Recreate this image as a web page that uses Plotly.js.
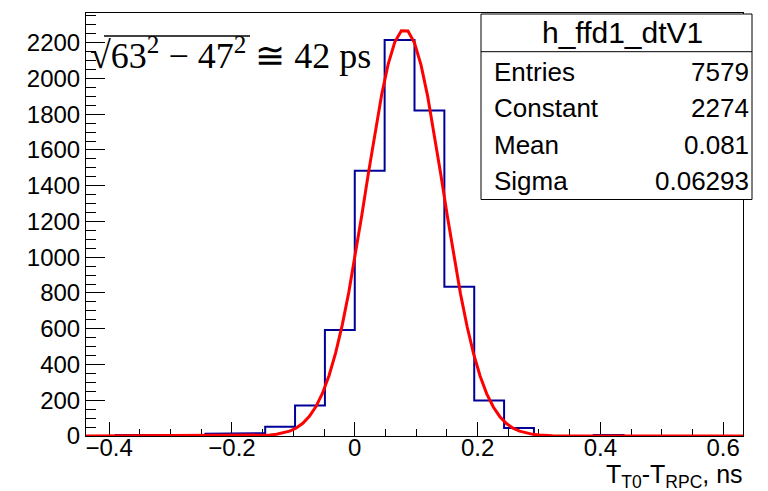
<!DOCTYPE html>
<html>
<head>
<meta charset="utf-8">
<script src="https://cdn.plot.ly/plotly-3.0.1.min.js"></script>
<style>
  html, body { margin: 0; padding: 0; background: #fff; }
  #chart { width: 768px; height: 491px; }
</style>
</head>
<body>
<div id="chart"></div>
<script>
// ---- data ----
const binStart = -0.43776;
const binWidth = 0.04864;
const counts = [0, 5, 5, 5, 12, 16, 52, 170, 593, 1484, 2215, 1820, 835, 198, 45, 0, 0, 5, 0, 0, 0, 0];

// fit curve (gaus) sampled as drawn
const fitX = [-0.43776, -0.15954, -0.14884, -0.13814, -0.12744, -0.11674, -0.10604, -0.09534, -0.08464, -0.07394,
  -0.06324, -0.05254, -0.04184, -0.03114, -0.02044, -0.00974, 0.00096, 0.01166, 0.02236, 0.03306,
  0.04376, 0.05446, 0.06516, 0.07586, 0.08656, 0.09726, 0.10796, 0.11866, 0.12936, 0.14006,
  0.15076, 0.16146, 0.17216, 0.18286, 0.19356, 0.20426, 0.21496, 0.22566, 0.23636, 0.24706,
  0.25776, 0.26846, 0.27916, 0.28986, 0.30056, 0.31126, 0.32196, 0.63232];
const fitY = [0, 1.5, 2.9, 5.3, 9.4, 16.3, 27.4, 44.8, 71.2, 109.8,
  164.4, 239.4, 338.4, 464.8, 620.2, 804.1, 1012.8, 1239.3, 1473.2, 1701.3,
  1908.7, 2080.5, 2203.1, 2266.4, 2265.1, 2199.3, 2074.6, 1901.2, 1692.6, 1464.0,
  1230.1, 1004.2, 796.4, 613.6, 459.3, 334.0, 236.0, 162.0, 108.0, 69.9,
  44.0, 26.9, 16.0, 9.2, 5.2, 2.8, 1.4, 0];

const xTickVals = [-0.4, -0.2, 0, 0.2, 0.4, 0.6];
const xTickText = ['\u22120.4', '\u22120.2', '0', '0.2', '0.4', '0.6'];
const yTickVals = [0, 200, 400, 600, 800, 1000, 1200, 1400, 1600, 1800, 2000, 2200];

const statsTitle = 'h_ffd1_dtV1';
const statsLabels = ['Entries', 'Constant', 'Mean', 'Sigma'];
const statsValues = ['7579', '2274', '0.081', '0.06293'];

const xTitle = 'T<sub>T0</sub>-T<sub>RPC</sub>, ns';
const formulaText = '<span style="font-size:38px">\u221A</span>63<sup>2</sup> \u2212 47<sup>2</sup> \u2245 42 ps';

// ---- build step outline ----
const hx = [binStart], hy = [0];
for (let i = 0; i < counts.length; i++) {
  const lo = binStart + i * binWidth, hi = lo + binWidth;
  hx.push(lo, hi); hy.push(counts[i], counts[i]);
}
hx.push(binStart + counts.length * binWidth); hy.push(0);

// ---- layout helpers (pixel -> paper) ----
const L = 86, Rr = 743, T = 13, B = 436;
const W = Rr - L, H = B - T;
const px = v => (v - L) / W;
const py = v => (B - v) / H;

const fontSans = 'Liberation Sans, Arial, sans-serif';
const fontSerif = 'Liberation Serif, serif';

const traces = [
  { x: hx, y: hy, type: 'scatter', mode: 'lines', line: { color: '#000099', width: 2, shape: 'linear' }, hoverinfo: 'skip' },
  { x: fitX, y: fitY, type: 'scatter', mode: 'lines', line: { color: '#ff0000', width: 3 }, hoverinfo: 'skip' }
];

const annotations = [];
annotations.push({ xref: 'paper', yref: 'paper', x: px(622), y: py(33), text: statsTitle, showarrow: false,
  xanchor: 'center', yanchor: 'middle', font: { family: fontSans, size: 30, color: '#000' } });
const rowY = [71.7, 108, 145, 181];
for (let i = 0; i < statsLabels.length; i++) {
  annotations.push({ xref: 'paper', yref: 'paper', x: px(492), y: py(rowY[i]), text: statsLabels[i], showarrow: false,
    xanchor: 'left', yanchor: 'middle', font: { family: fontSans, size: 26, color: '#000' } });
  annotations.push({ xref: 'paper', yref: 'paper', x: px(751), y: py(rowY[i]), text: statsValues[i], showarrow: false,
    xanchor: 'right', yanchor: 'middle', font: { family: fontSans, size: 26, color: '#000' } });
}
annotations.push({ xref: 'paper', yref: 'paper', x: px(745), y: py(476), text: xTitle, showarrow: false,
  xanchor: 'right', yanchor: 'middle', font: { family: fontSans, size: 25, color: '#000' } });
annotations.push({ xref: 'paper', yref: 'paper', x: px(88), y: py(53), text: formulaText, showarrow: false,
  xanchor: 'left', yanchor: 'middle', font: { family: fontSerif, size: 36, color: '#000' } });

const shapes = [
  { type: 'rect', xref: 'paper', yref: 'paper', x0: px(481), x1: px(752), y0: py(14), y1: py(199.5),
    line: { color: '#000', width: 1 }, fillcolor: '#fff', layer: 'above' },
  { type: 'line', xref: 'paper', yref: 'paper', x0: px(481), x1: px(752), y0: py(51.7), y1: py(51.7),
    line: { color: '#000', width: 1 }, layer: 'above' },
  { type: 'line', xref: 'paper', yref: 'paper', x0: px(104), x1: px(250), y0: py(36), y1: py(36),
    line: { color: '#000', width: 1.5 }, layer: 'above' }
];

const layout = {
  width: 768, height: 491,
  margin: { l: L, r: 768 - Rr, t: T, b: 491 - B, pad: 0 },
  paper_bgcolor: '#fff', plot_bgcolor: '#fff',
  showlegend: false,
  font: { family: fontSans, size: 23, color: '#000' },
  xaxis: {
    range: [binStart, binStart + counts.length * binWidth],
    tickvals: xTickVals, ticktext: xTickText,
    ticks: 'inside', ticklen: 14, tickwidth: 1, tickcolor: '#000',
    ticklabelstandoff: -10,
    minor: { dtick: 0.05, tick0: 0, ticks: 'inside', ticklen: 7, tickwidth: 1, tickcolor: '#000', showgrid: false },
    showline: true, linecolor: '#000', linewidth: 1, mirror: true,
    showgrid: false, zeroline: false, layer: 'below traces',
    tickfont: { family: fontSans, size: 24, color: '#000' }
  },
  yaxis: {
    range: [0, 2366],
    tickvals: yTickVals,
    ticks: 'inside', ticklen: 19, tickwidth: 1, tickcolor: '#000',
    minor: { dtick: 50, tick0: 0, ticks: 'inside', ticklen: 10, tickwidth: 1, tickcolor: '#000', showgrid: false },
    showline: true, linecolor: '#000', linewidth: 1, mirror: true,
    showgrid: false, zeroline: false, layer: 'below traces',
    tickfont: { family: fontSans, size: 24, color: '#000' }
  },
  annotations: annotations,
  shapes: shapes
};

Plotly.newPlot('chart', traces, layout, { staticPlot: true, displayModeBar: false });
</script>
</body>
</html>
